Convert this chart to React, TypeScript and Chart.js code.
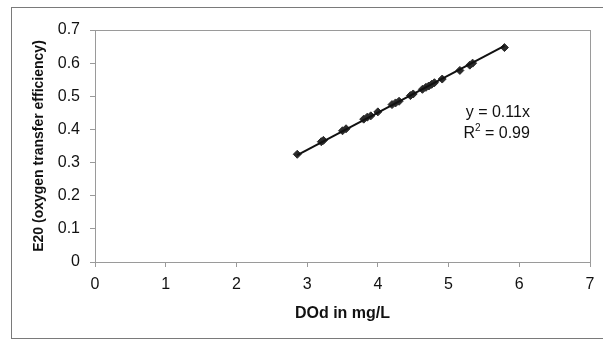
import React, { useEffect, useRef } from "react";
import { Chart, registerables } from "chart.js";

Chart.register(...registerables);

const doValues = [2.86, 3.2, 3.23, 3.5, 3.55, 3.8, 3.85, 3.9, 4.0, 4.2, 4.25, 4.3, 4.46, 4.5, 4.63, 4.68, 4.72, 4.76, 4.8, 4.91, 5.16, 5.3, 5.34, 5.79];
const e20Values = [0.325, 0.363, 0.367, 0.396, 0.402, 0.431, 0.437, 0.441, 0.453, 0.475, 0.48, 0.485, 0.502, 0.507, 0.521, 0.527, 0.531, 0.536, 0.541, 0.552, 0.578, 0.594, 0.6, 0.647];
const xTicks = [0, 1, 2, 3, 4, 5, 6, 7];
const yTicks = [0, 0.1, 0.2, 0.3, 0.4, 0.5, 0.6, 0.7];
const equationText = "y = 0.11x";
const r2Label = "R";
const r2Exp = "2";
const r2Value = " = 0.99";
const xTitle = "DOd in mg/L";
const yTitle = "E20 (oxygen transfer efficiency)";

const FONT = "'Liberation Sans', Arial, sans-serif";

export default function App() {
  const ref = useRef<HTMLCanvasElement | null>(null);

  useEffect(() => {
    if (!ref.current) return;
    const points = doValues.map((x, i) => ({ x, y: e20Values[i] }));
    let sxy = 0, sxx = 0;
    doValues.forEach((x, i) => { sxy += x * e20Values[i]; sxx += x * x; });
    const slope = sxy / sxx;
    const xMin = Math.min(...doValues);
    const xMax = Math.max(...doValues);
    const trend = [{ x: xMin, y: slope * xMin }, { x: xMax, y: slope * xMax }];

    const framePlugin = {
      id: "frame",
      afterDatasetsDraw(chart: any) {
        const { ctx, chartArea } = chart;
        ctx.save();
        ctx.strokeStyle = "#9a9a9a";
        ctx.lineWidth = 1;
        ctx.strokeRect(Math.round(chartArea.left) + 0.5, Math.round(chartArea.top) + 0.5,
          Math.round(chartArea.right - chartArea.left), Math.round(chartArea.bottom - chartArea.top));
        ctx.fillStyle = "#111";
        ctx.textBaseline = "middle";
        const xs = chart.scales.x;
        const ys = chart.scales.y;
        const right = xs.getPixelForValue(6.15);
        ctx.font = `16px ${FONT}`;
        ctx.textAlign = "right";
        ctx.fillText(equationText, right, ys.getPixelForValue(0.45));
        const y2 = ys.getPixelForValue(0.388);
        ctx.textAlign = "left";
        ctx.font = `16px ${FONT}`;
        const wR = ctx.measureText(r2Label).width;
        const wV = ctx.measureText(r2Value).width;
        ctx.font = `10px ${FONT}`;
        const wE = ctx.measureText(r2Exp).width;
        let x0 = right - (wR + wE + wV);
        ctx.font = `16px ${FONT}`;
        ctx.fillText(r2Label, x0, y2);
        x0 += wR;
        ctx.font = `10px ${FONT}`;
        ctx.fillText(r2Exp, x0, y2 - 5);
        x0 += wE;
        ctx.font = `16px ${FONT}`;
        ctx.fillText(r2Value, x0, y2);
        ctx.restore();
      },
    };

    const chart = new Chart(ref.current, {
      type: "scatter",
      data: {
        datasets: [
          {
            type: "line",
            data: trend,
            borderColor: "#111",
            borderWidth: 2,
            pointRadius: 0,
            showLine: true,
          } as any,
          {
            data: points,
            pointStyle: "rectRot",
            pointRadius: 4,
            backgroundColor: "#2a2a2a",
            borderColor: "#2a2a2a",
            borderWidth: 1,
          },
        ],
      },
      options: {
        animation: false,
        responsive: false,
        events: [],
        layout: { padding: { left: 27, right: 13, top: 30, bottom: 16 } },
        plugins: { legend: { display: false }, tooltip: { enabled: false } },
        scales: {
          x: {
            type: "linear",
            min: 0,
            max: 7,
            afterBuildTicks(scale: any) { scale.ticks = xTicks.map((v) => ({ value: v })); },
            afterFit(scale: any) { scale.height = 61; },
            ticks: {
              color: "#111",
              font: { family: FONT, size: 16 },
              padding: 8,
              maxRotation: 0,
              callback: (v: any) => String(v),
            },
            grid: { drawOnChartArea: false, tickLength: 5, color: "#9a9a9a" },
            border: { color: "#9a9a9a" },
            title: {
              display: true,
              text: xTitle,
              color: "#111",
              font: { family: FONT, size: 16, weight: "bold" },
              padding: { top: 4, bottom: 0 },
            },
          },
          y: {
            type: "linear",
            min: 0,
            max: 0.7,
            afterBuildTicks(scale: any) { scale.ticks = yTicks.map((v) => ({ value: v })); },
            afterFit(scale: any) { scale.width = 68; },
            ticks: {
              color: "#111",
              font: { family: FONT, size: 16 },
              padding: 10,
              callback: (v: any) => String(Number(Number(v).toFixed(1))),
            },
            grid: { drawOnChartArea: false, tickLength: 5, color: "#9a9a9a" },
            border: { color: "#9a9a9a" },
            title: {
              display: true,
              text: yTitle,
              color: "#111",
              font: { family: FONT, size: 14, weight: "bold" },
              padding: { top: 4, bottom: 4 },
            },
          },
        },
      },
      plugins: [framePlugin],
    });
    return () => chart.destroy();
  }, []);

  return (
    <div style={{ position: "fixed", left: 0, top: 0, width: 603, height: 339, background: "#fff" }}>
      <div style={{ position: "absolute", left: 11, top: 7, width: 600, height: 330, border: "1px solid #7a7a7a" }} />
      <canvas ref={ref} width={603} height={339} style={{ position: "absolute", left: 0, top: 0 }} />
    </div>
  );
}
